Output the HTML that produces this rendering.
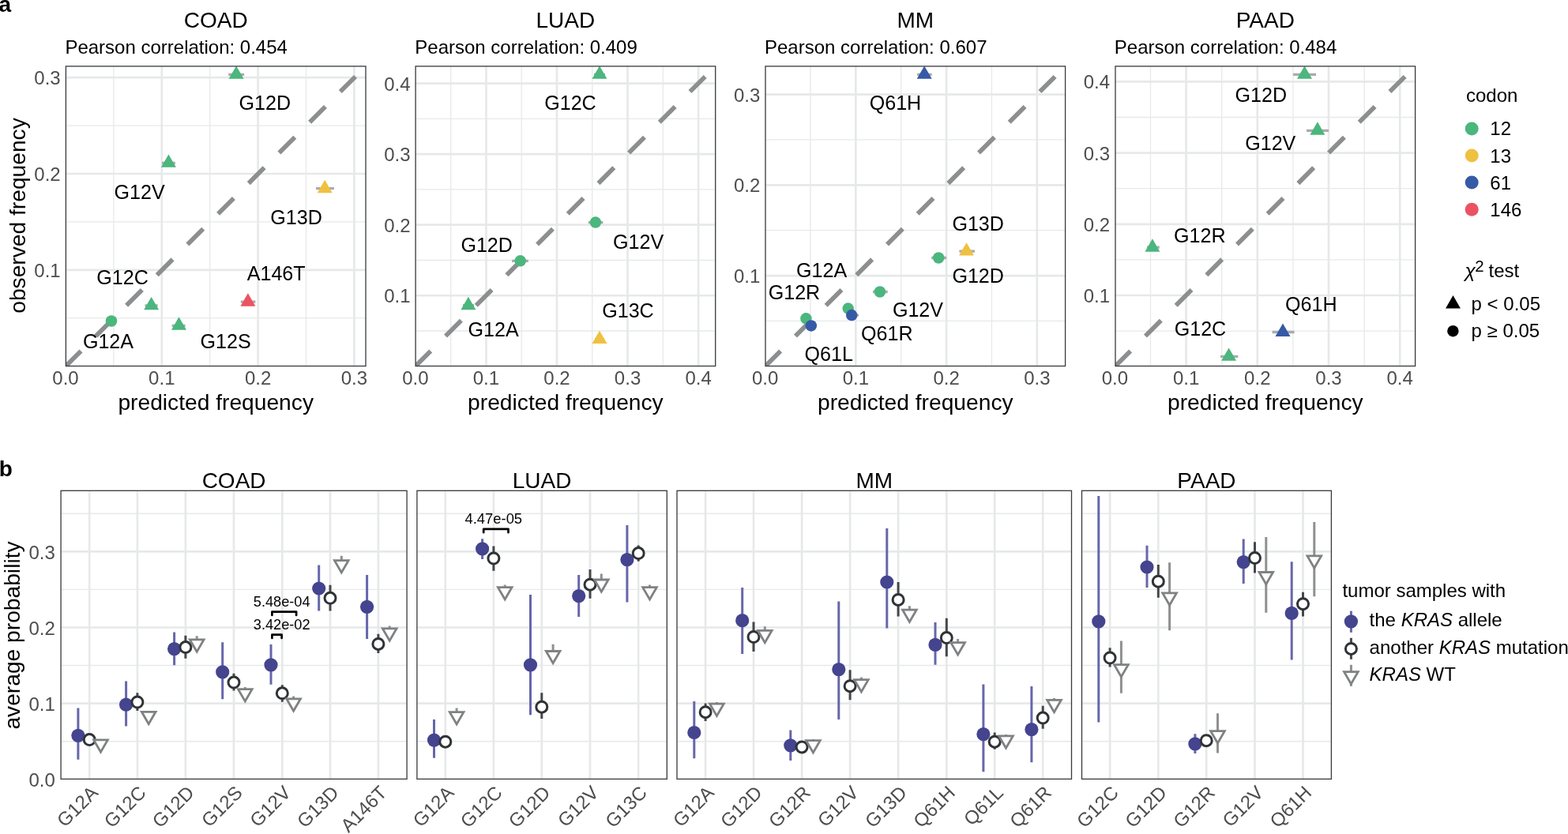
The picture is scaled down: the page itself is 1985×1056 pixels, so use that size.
<!DOCTYPE html>
<html lang="en">
<head>
<meta charset="utf-8">
<title>KRAS allele frequency: predicted vs observed</title>
<style>
html,body{margin:0;padding:0;background:#fff;}
body{width:1985px;height:1056px;overflow:hidden;}
svg{display:block;font-family:'Liberation Sans', sans-serif;}
</style>
</head>
<body>
<svg width="1985" height="1056" viewBox="0 0 1985 1056">
<rect width="1985" height="1056" fill="#fff"/>
<text x="-1.6" y="15.2" font-size="28" font-weight="bold" fill="#000">a</text>
<text x="-1.2" y="603.0" font-size="28" font-weight="bold" fill="#000">b</text>
<clipPath id="ca_COAD"><rect x="83.4" y="83.9" width="379.6" height="379.6"/></clipPath>
<g clip-path="url(#ca_COAD)">
<line x1="143.9" y1="83.9" x2="143.9" y2="463.5" stroke="#E7E9E9" stroke-width="1.3"/>
<line x1="204.8" y1="83.9" x2="204.8" y2="463.5" stroke="#E7E9E9" stroke-width="2.7"/>
<line x1="265.7" y1="83.9" x2="265.7" y2="463.5" stroke="#E7E9E9" stroke-width="1.3"/>
<line x1="326.6" y1="83.9" x2="326.6" y2="463.5" stroke="#E7E9E9" stroke-width="2.7"/>
<line x1="387.5" y1="83.9" x2="387.5" y2="463.5" stroke="#E7E9E9" stroke-width="1.3"/>
<line x1="448.4" y1="83.9" x2="448.4" y2="463.5" stroke="#E7E9E9" stroke-width="2.7"/>
<line x1="83.4" y1="402.7" x2="463" y2="402.7" stroke="#E7E9E9" stroke-width="1.3"/>
<line x1="83.4" y1="341.8" x2="463" y2="341.8" stroke="#E7E9E9" stroke-width="2.7"/>
<line x1="83.4" y1="280.9" x2="463" y2="280.9" stroke="#E7E9E9" stroke-width="1.3"/>
<line x1="83.4" y1="220" x2="463" y2="220" stroke="#E7E9E9" stroke-width="2.7"/>
<line x1="83.4" y1="159.1" x2="463" y2="159.1" stroke="#E7E9E9" stroke-width="1.3"/>
<line x1="83.4" y1="98.2" x2="463" y2="98.2" stroke="#E7E9E9" stroke-width="2.7"/>
<line x1="82.7" y1="464.2" x2="450" y2="96.9" stroke="#8C8E90" stroke-width="5.7" stroke-dasharray="28 26.7"/>
<line x1="289.2" y1="94.4" x2="309.1" y2="94.4" stroke="#A9ABAE" stroke-width="3.3"/>
<line x1="205" y1="206.4" x2="221.9" y2="206.4" stroke="#A9ABAE" stroke-width="3.3"/>
<line x1="400" y1="238.7" x2="422.9" y2="238.7" stroke="#A9ABAE" stroke-width="3.3"/>
<line x1="183.5" y1="386.9" x2="199.7" y2="386.9" stroke="#A9ABAE" stroke-width="3.3"/>
<line x1="217.6" y1="412.3" x2="234.6" y2="412.3" stroke="#A9ABAE" stroke-width="3.3"/>
<line x1="304.8" y1="382.2" x2="323.4" y2="382.2" stroke="#A9ABAE" stroke-width="3.3"/>
<line x1="135" y1="406.5" x2="147" y2="406.5" stroke="#A9ABAE" stroke-width="3.3"/>
<polygon points="299.1,83.47 308.6,99.87 289.6,99.87" fill="#4BB67D"/>
<polygon points="213.4,195.47 222.9,211.87 203.9,211.87" fill="#4BB67D"/>
<polygon points="411.2,227.77 420.7,244.17 401.7,244.17" fill="#EFC140"/>
<polygon points="191.6,375.97 201.1,392.37 182.1,392.37" fill="#4BB67D"/>
<polygon points="226.5,401.37 236,417.77 217,417.77" fill="#4BB67D"/>
<polygon points="313.9,371.27 323.4,387.67 304.4,387.67" fill="#EB5362"/>
<circle cx="141" cy="406.5" r="7.25" fill="#4BB67D"/>
</g>
<text x="302.6" y="139.3" font-size="25.1" fill="#000" text-anchor="start">G12D</text>
<text x="144.5" y="251.5" font-size="25.1" fill="#000" text-anchor="start">G12V</text>
<text x="342.3" y="283.8" font-size="25.1" fill="#000" text-anchor="start">G13D</text>
<text x="122.3" y="359.9" font-size="25.1" fill="#000" text-anchor="start">G12C</text>
<text x="312.7" y="354.6" font-size="25.1" fill="#000" text-anchor="start">A146T</text>
<text x="104.9" y="441" font-size="25.1" fill="#000" text-anchor="start">G12A</text>
<text x="253.5" y="441" font-size="25.1" fill="#000" text-anchor="start">G12S</text>
<rect x="83.4" y="83.9" width="379.6" height="379.6" fill="none" stroke="#36393C" stroke-width="1.3"/>
<text x="83" y="487.1" font-size="24" fill="#4D4D4D" text-anchor="middle">0.0</text>
<text x="204.8" y="487.1" font-size="24" fill="#4D4D4D" text-anchor="middle">0.1</text>
<text x="326.6" y="487.1" font-size="24" fill="#4D4D4D" text-anchor="middle">0.2</text>
<text x="448.4" y="487.1" font-size="24" fill="#4D4D4D" text-anchor="middle">0.3</text>
<text x="76.7" y="350.8" font-size="24" fill="#4D4D4D" text-anchor="end">0.1</text>
<text x="76.7" y="229" font-size="24" fill="#4D4D4D" text-anchor="end">0.2</text>
<text x="76.7" y="107.2" font-size="24" fill="#4D4D4D" text-anchor="end">0.3</text>
<text x="273.2" y="35.4" font-size="28" fill="#000" text-anchor="middle">COAD</text>
<text x="82.4" y="68" font-size="24" fill="#000" text-anchor="start">Pearson correlation: 0.454</text>
<text x="273.2" y="519.4" font-size="28.2" fill="#000" text-anchor="middle">predicted frequency</text>
<clipPath id="ca_LUAD"><rect x="526.1" y="83.9" width="379.6" height="379.6"/></clipPath>
<g clip-path="url(#ca_LUAD)">
<line x1="570.67" y1="83.9" x2="570.67" y2="463.5" stroke="#E7E9E9" stroke-width="1.3"/>
<line x1="615.45" y1="83.9" x2="615.45" y2="463.5" stroke="#E7E9E9" stroke-width="2.7"/>
<line x1="660.23" y1="83.9" x2="660.23" y2="463.5" stroke="#E7E9E9" stroke-width="1.3"/>
<line x1="705" y1="83.9" x2="705" y2="463.5" stroke="#E7E9E9" stroke-width="2.7"/>
<line x1="749.77" y1="83.9" x2="749.77" y2="463.5" stroke="#E7E9E9" stroke-width="1.3"/>
<line x1="794.55" y1="83.9" x2="794.55" y2="463.5" stroke="#E7E9E9" stroke-width="2.7"/>
<line x1="839.32" y1="83.9" x2="839.32" y2="463.5" stroke="#E7E9E9" stroke-width="1.3"/>
<line x1="884.1" y1="83.9" x2="884.1" y2="463.5" stroke="#E7E9E9" stroke-width="2.7"/>
<line x1="526.1" y1="419.02" x2="905.7" y2="419.02" stroke="#E7E9E9" stroke-width="1.3"/>
<line x1="526.1" y1="374.25" x2="905.7" y2="374.25" stroke="#E7E9E9" stroke-width="2.7"/>
<line x1="526.1" y1="329.48" x2="905.7" y2="329.48" stroke="#E7E9E9" stroke-width="1.3"/>
<line x1="526.1" y1="284.7" x2="905.7" y2="284.7" stroke="#E7E9E9" stroke-width="2.7"/>
<line x1="526.1" y1="239.93" x2="905.7" y2="239.93" stroke="#E7E9E9" stroke-width="1.3"/>
<line x1="526.1" y1="195.15" x2="905.7" y2="195.15" stroke="#E7E9E9" stroke-width="2.7"/>
<line x1="526.1" y1="150.38" x2="905.7" y2="150.38" stroke="#E7E9E9" stroke-width="1.3"/>
<line x1="526.1" y1="105.6" x2="905.7" y2="105.6" stroke="#E7E9E9" stroke-width="2.7"/>
<line x1="525.4" y1="464.2" x2="892.7" y2="96.9" stroke="#8C8E90" stroke-width="5.7" stroke-dasharray="28 26.7"/>
<line x1="752" y1="94.4" x2="766" y2="94.4" stroke="#A9ABAE" stroke-width="3.3"/>
<line x1="744.8" y1="281.6" x2="763.4" y2="281.6" stroke="#A9ABAE" stroke-width="3.3"/>
<line x1="648.1" y1="330.3" x2="668.9" y2="330.3" stroke="#A9ABAE" stroke-width="3.3"/>
<line x1="586" y1="386.7" x2="600" y2="386.7" stroke="#A9ABAE" stroke-width="3.3"/>
<line x1="753" y1="429.6" x2="765" y2="429.6" stroke="#A9ABAE" stroke-width="3.3"/>
<polygon points="759,83.47 768.5,99.87 749.5,99.87" fill="#4BB67D"/>
<circle cx="753.9" cy="281.6" r="7.25" fill="#4BB67D"/>
<circle cx="658.7" cy="330.3" r="7.25" fill="#4BB67D"/>
<polygon points="592.9,375.77 602.4,392.17 583.4,392.17" fill="#4BB67D"/>
<polygon points="759,418.67 768.5,435.07 749.5,435.07" fill="#EFC140"/>
</g>
<text x="689.2" y="139.3" font-size="25.1" fill="#000" text-anchor="start">G12C</text>
<text x="776" y="314.9" font-size="25.1" fill="#000" text-anchor="start">G12V</text>
<text x="583.4" y="319.1" font-size="25.1" fill="#000" text-anchor="start">G12D</text>
<text x="762.2" y="402.2" font-size="25.1" fill="#000" text-anchor="start">G13C</text>
<text x="592.5" y="425.9" font-size="25.1" fill="#000" text-anchor="start">G12A</text>
<rect x="526.1" y="83.9" width="379.6" height="379.6" fill="none" stroke="#36393C" stroke-width="1.3"/>
<text x="525.9" y="487.1" font-size="24" fill="#4D4D4D" text-anchor="middle">0.0</text>
<text x="615.45" y="487.1" font-size="24" fill="#4D4D4D" text-anchor="middle">0.1</text>
<text x="705" y="487.1" font-size="24" fill="#4D4D4D" text-anchor="middle">0.2</text>
<text x="794.55" y="487.1" font-size="24" fill="#4D4D4D" text-anchor="middle">0.3</text>
<text x="884.1" y="487.1" font-size="24" fill="#4D4D4D" text-anchor="middle">0.4</text>
<text x="519.6" y="383.25" font-size="24" fill="#4D4D4D" text-anchor="end">0.1</text>
<text x="519.6" y="293.7" font-size="24" fill="#4D4D4D" text-anchor="end">0.2</text>
<text x="519.6" y="204.15" font-size="24" fill="#4D4D4D" text-anchor="end">0.3</text>
<text x="519.6" y="114.6" font-size="24" fill="#4D4D4D" text-anchor="end">0.4</text>
<text x="715.9" y="35.4" font-size="28" fill="#000" text-anchor="middle">LUAD</text>
<text x="525.3" y="68" font-size="24" fill="#000" text-anchor="start">Pearson correlation: 0.409</text>
<text x="715.9" y="519.4" font-size="28.2" fill="#000" text-anchor="middle">predicted frequency</text>
<clipPath id="ca_MM"><rect x="969" y="83.9" width="379.6" height="379.6"/></clipPath>
<g clip-path="url(#ca_MM)">
<line x1="1025.97" y1="83.9" x2="1025.97" y2="463.5" stroke="#E7E9E9" stroke-width="1.3"/>
<line x1="1083.35" y1="83.9" x2="1083.35" y2="463.5" stroke="#E7E9E9" stroke-width="2.7"/>
<line x1="1140.73" y1="83.9" x2="1140.73" y2="463.5" stroke="#E7E9E9" stroke-width="1.3"/>
<line x1="1198.1" y1="83.9" x2="1198.1" y2="463.5" stroke="#E7E9E9" stroke-width="2.7"/>
<line x1="1255.47" y1="83.9" x2="1255.47" y2="463.5" stroke="#E7E9E9" stroke-width="1.3"/>
<line x1="1312.85" y1="83.9" x2="1312.85" y2="463.5" stroke="#E7E9E9" stroke-width="2.7"/>
<line x1="969" y1="406.43" x2="1348.6" y2="406.43" stroke="#E7E9E9" stroke-width="1.3"/>
<line x1="969" y1="349.05" x2="1348.6" y2="349.05" stroke="#E7E9E9" stroke-width="2.7"/>
<line x1="969" y1="291.67" x2="1348.6" y2="291.67" stroke="#E7E9E9" stroke-width="1.3"/>
<line x1="969" y1="234.3" x2="1348.6" y2="234.3" stroke="#E7E9E9" stroke-width="2.7"/>
<line x1="969" y1="176.93" x2="1348.6" y2="176.93" stroke="#E7E9E9" stroke-width="1.3"/>
<line x1="969" y1="119.55" x2="1348.6" y2="119.55" stroke="#E7E9E9" stroke-width="2.7"/>
<line x1="968.3" y1="464.2" x2="1335.6" y2="96.9" stroke="#8C8E90" stroke-width="5.7" stroke-dasharray="28 26.7"/>
<line x1="1161.1" y1="94.4" x2="1179.7" y2="94.4" stroke="#A9ABAE" stroke-width="3.3"/>
<line x1="1214.4" y1="318.1" x2="1234.1" y2="318.1" stroke="#A9ABAE" stroke-width="3.3"/>
<line x1="1179.1" y1="326.5" x2="1198.1" y2="326.5" stroke="#A9ABAE" stroke-width="3.3"/>
<line x1="1105" y1="369.5" x2="1123.7" y2="369.5" stroke="#A9ABAE" stroke-width="3.3"/>
<line x1="1068" y1="390.6" x2="1080" y2="390.6" stroke="#A9ABAE" stroke-width="3.3"/>
<line x1="1073" y1="399.1" x2="1087" y2="399.1" stroke="#A9ABAE" stroke-width="3.3"/>
<line x1="1015" y1="403.3" x2="1026" y2="403.3" stroke="#A9ABAE" stroke-width="3.3"/>
<line x1="1021" y1="412.4" x2="1032" y2="412.4" stroke="#A9ABAE" stroke-width="3.3"/>
<polygon points="1170.2,83.47 1179.7,99.87 1160.7,99.87" fill="#365AA6"/>
<polygon points="1223.5,307.17 1233,323.57 1214,323.57" fill="#EFC140"/>
<circle cx="1188.2" cy="326.5" r="7.25" fill="#4BB67D"/>
<circle cx="1113.9" cy="369.5" r="7.25" fill="#4BB67D"/>
<circle cx="1073.7" cy="390.6" r="7.25" fill="#4BB67D"/>
<circle cx="1078.2" cy="399.1" r="7.25" fill="#365AA6"/>
<circle cx="1020.4" cy="403.3" r="7.25" fill="#4BB67D"/>
<circle cx="1026.8" cy="412.4" r="7.25" fill="#365AA6"/>
</g>
<text x="1100.7" y="139.3" font-size="25.1" fill="#000" text-anchor="start">Q61H</text>
<text x="1205.4" y="291.8" font-size="25.1" fill="#000" text-anchor="start">G13D</text>
<text x="1205.4" y="357.8" font-size="25.1" fill="#000" text-anchor="start">G12D</text>
<text x="1008" y="351" font-size="25.1" fill="#000" text-anchor="start">G12A</text>
<text x="972.7" y="379.4" font-size="25.1" fill="#000" text-anchor="start">G12R</text>
<text x="1129.9" y="401.2" font-size="25.1" fill="#000" text-anchor="start">G12V</text>
<text x="1090.1" y="431.2" font-size="25.1" fill="#000" text-anchor="start">Q61R</text>
<text x="1018.6" y="456.6" font-size="25.1" fill="#000" text-anchor="start">Q61L</text>
<rect x="969" y="83.9" width="379.6" height="379.6" fill="none" stroke="#36393C" stroke-width="1.3"/>
<text x="968.6" y="487.1" font-size="24" fill="#4D4D4D" text-anchor="middle">0.0</text>
<text x="1083.35" y="487.1" font-size="24" fill="#4D4D4D" text-anchor="middle">0.1</text>
<text x="1198.1" y="487.1" font-size="24" fill="#4D4D4D" text-anchor="middle">0.2</text>
<text x="1312.85" y="487.1" font-size="24" fill="#4D4D4D" text-anchor="middle">0.3</text>
<text x="962.3" y="358.05" font-size="24" fill="#4D4D4D" text-anchor="end">0.1</text>
<text x="962.3" y="243.3" font-size="24" fill="#4D4D4D" text-anchor="end">0.2</text>
<text x="962.3" y="128.55" font-size="24" fill="#4D4D4D" text-anchor="end">0.3</text>
<text x="1158.8" y="35.4" font-size="28" fill="#000" text-anchor="middle">MM</text>
<text x="968" y="68" font-size="24" fill="#000" text-anchor="start">Pearson correlation: 0.607</text>
<text x="1158.8" y="519.4" font-size="28.2" fill="#000" text-anchor="middle">predicted frequency</text>
<clipPath id="ca_PAAD"><rect x="1412" y="83.9" width="379.6" height="379.6"/></clipPath>
<g clip-path="url(#ca_PAAD)">
<line x1="1456.5" y1="83.9" x2="1456.5" y2="463.5" stroke="#E7E9E9" stroke-width="1.3"/>
<line x1="1501.6" y1="83.9" x2="1501.6" y2="463.5" stroke="#E7E9E9" stroke-width="2.7"/>
<line x1="1546.7" y1="83.9" x2="1546.7" y2="463.5" stroke="#E7E9E9" stroke-width="1.3"/>
<line x1="1591.8" y1="83.9" x2="1591.8" y2="463.5" stroke="#E7E9E9" stroke-width="2.7"/>
<line x1="1636.9" y1="83.9" x2="1636.9" y2="463.5" stroke="#E7E9E9" stroke-width="1.3"/>
<line x1="1682" y1="83.9" x2="1682" y2="463.5" stroke="#E7E9E9" stroke-width="2.7"/>
<line x1="1727.1" y1="83.9" x2="1727.1" y2="463.5" stroke="#E7E9E9" stroke-width="1.3"/>
<line x1="1772.2" y1="83.9" x2="1772.2" y2="463.5" stroke="#E7E9E9" stroke-width="2.7"/>
<line x1="1412" y1="419.1" x2="1791.6" y2="419.1" stroke="#E7E9E9" stroke-width="1.3"/>
<line x1="1412" y1="374" x2="1791.6" y2="374" stroke="#E7E9E9" stroke-width="2.7"/>
<line x1="1412" y1="328.9" x2="1791.6" y2="328.9" stroke="#E7E9E9" stroke-width="1.3"/>
<line x1="1412" y1="283.8" x2="1791.6" y2="283.8" stroke="#E7E9E9" stroke-width="2.7"/>
<line x1="1412" y1="238.7" x2="1791.6" y2="238.7" stroke="#E7E9E9" stroke-width="1.3"/>
<line x1="1412" y1="193.6" x2="1791.6" y2="193.6" stroke="#E7E9E9" stroke-width="2.7"/>
<line x1="1412" y1="148.5" x2="1791.6" y2="148.5" stroke="#E7E9E9" stroke-width="1.3"/>
<line x1="1412" y1="103.4" x2="1791.6" y2="103.4" stroke="#E7E9E9" stroke-width="2.7"/>
<line x1="1411.3" y1="464.2" x2="1778.6" y2="96.9" stroke="#8C8E90" stroke-width="5.7" stroke-dasharray="28 26.7"/>
<line x1="1637.1" y1="94.4" x2="1666.1" y2="94.4" stroke="#A9ABAE" stroke-width="3.3"/>
<line x1="1654" y1="165.3" x2="1682" y2="165.3" stroke="#A9ABAE" stroke-width="3.3"/>
<line x1="1452" y1="313.2" x2="1467.8" y2="313.2" stroke="#A9ABAE" stroke-width="3.3"/>
<line x1="1610.6" y1="420.5" x2="1638.6" y2="420.5" stroke="#A9ABAE" stroke-width="3.3"/>
<line x1="1545" y1="451.4" x2="1567.3" y2="451.4" stroke="#A9ABAE" stroke-width="3.3"/>
<polygon points="1651.5,83.47 1661,99.87 1642,99.87" fill="#4BB67D"/>
<polygon points="1667.9,154.37 1677.4,170.77 1658.4,170.77" fill="#4BB67D"/>
<polygon points="1458.9,302.27 1468.4,318.67 1449.4,318.67" fill="#4BB67D"/>
<polygon points="1624,409.57 1633.5,425.97 1614.5,425.97" fill="#365AA6"/>
<polygon points="1555.6,440.47 1565.1,456.87 1546.1,456.87" fill="#4BB67D"/>
</g>
<text x="1563.5" y="128.8" font-size="25.1" fill="#000" text-anchor="start">G12D</text>
<text x="1576.2" y="190.2" font-size="25.1" fill="#000" text-anchor="start">G12V</text>
<text x="1486.1" y="306.6" font-size="25.1" fill="#000" text-anchor="start">G12R</text>
<text x="1627" y="393.8" font-size="25.1" fill="#000" text-anchor="start">Q61H</text>
<text x="1486.7" y="425.1" font-size="25.1" fill="#000" text-anchor="start">G12C</text>
<rect x="1412" y="83.9" width="379.6" height="379.6" fill="none" stroke="#36393C" stroke-width="1.3"/>
<text x="1411.4" y="487.1" font-size="24" fill="#4D4D4D" text-anchor="middle">0.0</text>
<text x="1501.6" y="487.1" font-size="24" fill="#4D4D4D" text-anchor="middle">0.1</text>
<text x="1591.8" y="487.1" font-size="24" fill="#4D4D4D" text-anchor="middle">0.2</text>
<text x="1682" y="487.1" font-size="24" fill="#4D4D4D" text-anchor="middle">0.3</text>
<text x="1772.2" y="487.1" font-size="24" fill="#4D4D4D" text-anchor="middle">0.4</text>
<text x="1405.1" y="383" font-size="24" fill="#4D4D4D" text-anchor="end">0.1</text>
<text x="1405.1" y="292.8" font-size="24" fill="#4D4D4D" text-anchor="end">0.2</text>
<text x="1405.1" y="202.6" font-size="24" fill="#4D4D4D" text-anchor="end">0.3</text>
<text x="1405.1" y="112.4" font-size="24" fill="#4D4D4D" text-anchor="end">0.4</text>
<text x="1601.8" y="35.4" font-size="28" fill="#000" text-anchor="middle">PAAD</text>
<text x="1410.8" y="68" font-size="24" fill="#000" text-anchor="start">Pearson correlation: 0.484</text>
<text x="1601.8" y="519.4" font-size="28.2" fill="#000" text-anchor="middle">predicted frequency</text>
<text transform="translate(31.8,273.0) rotate(-90)" font-size="28.2" text-anchor="middle" fill="#000">observed frequency</text>
<text x="1856" y="128.8" font-size="24" fill="#000" text-anchor="start">codon</text>
<circle cx="1863.2" cy="162.9" r="8.5" fill="#4BB67D"/>
<text x="1886.3" y="171.4" font-size="24" fill="#000" text-anchor="start">12</text>
<circle cx="1863.2" cy="197" r="8.5" fill="#EFC140"/>
<text x="1886.3" y="205.5" font-size="24" fill="#000" text-anchor="start">13</text>
<circle cx="1863.2" cy="231.1" r="8.5" fill="#365AA6"/>
<text x="1886.3" y="239.6" font-size="24" fill="#000" text-anchor="start">61</text>
<circle cx="1863.2" cy="265.2" r="8.5" fill="#EB5362"/>
<text x="1886.3" y="273.7" font-size="24" fill="#000" text-anchor="start">146</text>
<text y="350.6" font-size="24" fill="#000"><tspan x="1854.4" font-style="italic" font-size="24.5">χ</tspan><tspan x="1867.3" y="344.0" font-size="20.5">2</tspan><tspan x="1884.6" y="350.6">test</tspan></text>
<polygon points="1839.5,374.07 1848.95,390.47 1830.05,390.47" fill="#000"/>
<circle cx="1839.4" cy="419.2" r="7.2" fill="#000"/>
<text x="1862.6" y="393.2" font-size="24" fill="#000" text-anchor="start">p &lt; 0.05</text>
<text x="1862.6" y="427.3" font-size="24" fill="#000" text-anchor="start">p ≥ 0.05</text>
<clipPath id="cb_COAD"><rect x="77.1" y="621.3" width="438" height="365.1"/></clipPath>
<g clip-path="url(#cb_COAD)">
<line x1="77.1" y1="938.72" x2="515.1" y2="938.72" stroke="#E7E9E9" stroke-width="1.4"/>
<line x1="77.1" y1="890.65" x2="515.1" y2="890.65" stroke="#E7E9E9" stroke-width="2.7"/>
<line x1="77.1" y1="842.57" x2="515.1" y2="842.57" stroke="#E7E9E9" stroke-width="1.4"/>
<line x1="77.1" y1="794.5" x2="515.1" y2="794.5" stroke="#E7E9E9" stroke-width="2.7"/>
<line x1="77.1" y1="746.42" x2="515.1" y2="746.42" stroke="#E7E9E9" stroke-width="1.4"/>
<line x1="77.1" y1="698.35" x2="515.1" y2="698.35" stroke="#E7E9E9" stroke-width="2.7"/>
<line x1="77.1" y1="650.27" x2="515.1" y2="650.27" stroke="#E7E9E9" stroke-width="1.4"/>
<line x1="113.2" y1="621.3" x2="113.2" y2="986.4" stroke="#E7E9E9" stroke-width="2.7"/>
<line x1="173.9" y1="621.3" x2="173.9" y2="986.4" stroke="#E7E9E9" stroke-width="2.7"/>
<line x1="234.9" y1="621.3" x2="234.9" y2="986.4" stroke="#E7E9E9" stroke-width="2.7"/>
<line x1="296" y1="621.3" x2="296" y2="986.4" stroke="#E7E9E9" stroke-width="2.7"/>
<line x1="357.3" y1="621.3" x2="357.3" y2="986.4" stroke="#E7E9E9" stroke-width="2.7"/>
<line x1="418" y1="621.3" x2="418" y2="986.4" stroke="#E7E9E9" stroke-width="2.7"/>
<line x1="478.9" y1="621.3" x2="478.9" y2="986.4" stroke="#E7E9E9" stroke-width="2.7"/>
<line x1="98.9" y1="896.4" x2="98.9" y2="961.8" stroke="#6666AB" stroke-width="3"/>
<circle cx="98.9" cy="931.3" r="8.6" fill="#44448F"/>
<line x1="113.2" y1="930" x2="113.2" y2="943" stroke="#45484B" stroke-width="3"/>
<circle cx="113.2" cy="936.6" r="7.0" fill="#fff" stroke="#2F3336" stroke-width="3"/>
<line x1="127.5" y1="936" x2="127.5" y2="948" stroke="#8E9091" stroke-width="3"/>
<polygon points="118.65,936.89 136.35,936.89 127.5,952.22" fill="#fff" stroke="#7F8182" stroke-width="2.8" stroke-linejoin="miter"/>
<line x1="159.6" y1="862.4" x2="159.6" y2="919.5" stroke="#6666AB" stroke-width="3"/>
<circle cx="159.6" cy="892.2" r="8.6" fill="#44448F"/>
<line x1="173.9" y1="877.2" x2="173.9" y2="900" stroke="#45484B" stroke-width="3"/>
<circle cx="173.9" cy="889" r="7.0" fill="#fff" stroke="#2F3336" stroke-width="3"/>
<line x1="188.2" y1="900" x2="188.2" y2="912" stroke="#8E9091" stroke-width="3"/>
<polygon points="179.35,901.29 197.05,901.29 188.2,916.62" fill="#fff" stroke="#7F8182" stroke-width="2.8" stroke-linejoin="miter"/>
<line x1="220.6" y1="800.6" x2="220.6" y2="842.3" stroke="#6666AB" stroke-width="3"/>
<circle cx="220.6" cy="821.7" r="8.6" fill="#44448F"/>
<line x1="234.9" y1="804.8" x2="234.9" y2="833.8" stroke="#45484B" stroke-width="3"/>
<circle cx="234.9" cy="819.6" r="7.0" fill="#fff" stroke="#2F3336" stroke-width="3"/>
<line x1="249.2" y1="805.2" x2="249.2" y2="822" stroke="#8E9091" stroke-width="3"/>
<polygon points="240.35,809.89 258.05,809.89 249.2,825.22" fill="#fff" stroke="#7F8182" stroke-width="2.8" stroke-linejoin="miter"/>
<line x1="281.7" y1="813.3" x2="281.7" y2="885.2" stroke="#6666AB" stroke-width="3"/>
<circle cx="281.7" cy="850.9" r="8.6" fill="#44448F"/>
<line x1="296" y1="852.8" x2="296" y2="874.6" stroke="#45484B" stroke-width="3"/>
<circle cx="296" cy="864.1" r="7.0" fill="#fff" stroke="#2F3336" stroke-width="3"/>
<line x1="310.3" y1="870" x2="310.3" y2="884" stroke="#8E9091" stroke-width="3"/>
<polygon points="301.45,872.69 319.15,872.69 310.3,888.02" fill="#fff" stroke="#7F8182" stroke-width="2.8" stroke-linejoin="miter"/>
<line x1="343" y1="816" x2="343" y2="866.8" stroke="#6666AB" stroke-width="3"/>
<circle cx="343" cy="841.8" r="8.6" fill="#44448F"/>
<line x1="357.3" y1="867.2" x2="357.3" y2="888.8" stroke="#45484B" stroke-width="3"/>
<circle cx="357.3" cy="877.8" r="7.0" fill="#fff" stroke="#2F3336" stroke-width="3"/>
<line x1="371.6" y1="881.5" x2="371.6" y2="896" stroke="#8E9091" stroke-width="3"/>
<polygon points="362.75,884.79 380.45,884.79 371.6,900.12" fill="#fff" stroke="#7F8182" stroke-width="2.8" stroke-linejoin="miter"/>
<line x1="403.7" y1="715.4" x2="403.7" y2="773.6" stroke="#6666AB" stroke-width="3"/>
<circle cx="403.7" cy="745" r="8.6" fill="#44448F"/>
<line x1="418" y1="740.8" x2="418" y2="773.6" stroke="#45484B" stroke-width="3"/>
<circle cx="418" cy="757.3" r="7.0" fill="#fff" stroke="#2F3336" stroke-width="3"/>
<line x1="432.3" y1="703.8" x2="432.3" y2="722" stroke="#8E9091" stroke-width="3"/>
<polygon points="423.45,709.69 441.15,709.69 432.3,725.02" fill="#fff" stroke="#7F8182" stroke-width="2.8" stroke-linejoin="miter"/>
<line x1="464.6" y1="728.1" x2="464.6" y2="809" stroke="#6666AB" stroke-width="3"/>
<circle cx="464.6" cy="768.3" r="8.6" fill="#44448F"/>
<line x1="478.9" y1="802.7" x2="478.9" y2="827" stroke="#45484B" stroke-width="3"/>
<circle cx="478.9" cy="815.4" r="7.0" fill="#fff" stroke="#2F3336" stroke-width="3"/>
<line x1="493.2" y1="792.5" x2="493.2" y2="808" stroke="#8E9091" stroke-width="3"/>
<polygon points="484.35,795.89 502.05,795.89 493.2,811.22" fill="#fff" stroke="#7F8182" stroke-width="2.8" stroke-linejoin="miter"/>
</g>
<rect x="77.1" y="621.3" width="438" height="365.1" fill="none" stroke="#36393C" stroke-width="1.3"/>
<text x="296.1" y="618" font-size="28" fill="#000" text-anchor="middle">COAD</text>
<text transform="translate(125.5,1005.2) rotate(-45)" font-size="24" fill="#4D4D4D" text-anchor="end">G12A</text>
<text transform="translate(186.2,1005.2) rotate(-45)" font-size="24" fill="#4D4D4D" text-anchor="end">G12C</text>
<text transform="translate(247.2,1005.2) rotate(-45)" font-size="24" fill="#4D4D4D" text-anchor="end">G12D</text>
<text transform="translate(308.3,1005.2) rotate(-45)" font-size="24" fill="#4D4D4D" text-anchor="end">G12S</text>
<text transform="translate(369.6,1005.2) rotate(-45)" font-size="24" fill="#4D4D4D" text-anchor="end">G12V</text>
<text transform="translate(430.3,1005.2) rotate(-45)" font-size="24" fill="#4D4D4D" text-anchor="end">G13D</text>
<text transform="translate(491.2,1005.2) rotate(-45)" font-size="24" fill="#4D4D4D" text-anchor="end">A146T</text>
<text x="69.8" y="996.1" font-size="24" fill="#4D4D4D" text-anchor="end">0.0</text>
<text x="69.8" y="899.95" font-size="24" fill="#4D4D4D" text-anchor="end">0.1</text>
<text x="69.8" y="803.8" font-size="24" fill="#4D4D4D" text-anchor="end">0.2</text>
<text x="69.8" y="707.65" font-size="24" fill="#4D4D4D" text-anchor="end">0.3</text>
<clipPath id="cb_LUAD"><rect x="527.9" y="621.3" width="316.4" height="365.1"/></clipPath>
<g clip-path="url(#cb_LUAD)">
<line x1="527.9" y1="938.72" x2="844.3" y2="938.72" stroke="#E7E9E9" stroke-width="1.4"/>
<line x1="527.9" y1="890.65" x2="844.3" y2="890.65" stroke="#E7E9E9" stroke-width="2.7"/>
<line x1="527.9" y1="842.57" x2="844.3" y2="842.57" stroke="#E7E9E9" stroke-width="1.4"/>
<line x1="527.9" y1="794.5" x2="844.3" y2="794.5" stroke="#E7E9E9" stroke-width="2.7"/>
<line x1="527.9" y1="746.42" x2="844.3" y2="746.42" stroke="#E7E9E9" stroke-width="1.4"/>
<line x1="527.9" y1="698.35" x2="844.3" y2="698.35" stroke="#E7E9E9" stroke-width="2.7"/>
<line x1="527.9" y1="650.27" x2="844.3" y2="650.27" stroke="#E7E9E9" stroke-width="1.4"/>
<line x1="563.8" y1="621.3" x2="563.8" y2="986.4" stroke="#E7E9E9" stroke-width="2.7"/>
<line x1="624.9" y1="621.3" x2="624.9" y2="986.4" stroke="#E7E9E9" stroke-width="2.7"/>
<line x1="685.8" y1="621.3" x2="685.8" y2="986.4" stroke="#E7E9E9" stroke-width="2.7"/>
<line x1="747" y1="621.3" x2="747" y2="986.4" stroke="#E7E9E9" stroke-width="2.7"/>
<line x1="808.2" y1="621.3" x2="808.2" y2="986.4" stroke="#E7E9E9" stroke-width="2.7"/>
<line x1="549.5" y1="911" x2="549.5" y2="959.7" stroke="#6666AB" stroke-width="3"/>
<circle cx="549.5" cy="937.1" r="8.6" fill="#44448F"/>
<line x1="563.8" y1="934" x2="563.8" y2="945" stroke="#45484B" stroke-width="3"/>
<circle cx="563.8" cy="939.2" r="7.0" fill="#fff" stroke="#2F3336" stroke-width="3"/>
<line x1="578.1" y1="896.4" x2="578.1" y2="913" stroke="#8E9091" stroke-width="3"/>
<polygon points="569.25,901.69 586.95,901.69 578.1,917.02" fill="#fff" stroke="#7F8182" stroke-width="2.8" stroke-linejoin="miter"/>
<line x1="610.6" y1="682.2" x2="610.6" y2="708" stroke="#6666AB" stroke-width="3"/>
<circle cx="610.6" cy="694.9" r="8.6" fill="#44448F"/>
<line x1="624.9" y1="691.5" x2="624.9" y2="722.8" stroke="#45484B" stroke-width="3"/>
<circle cx="624.9" cy="707" r="7.0" fill="#fff" stroke="#2F3336" stroke-width="3"/>
<line x1="639.2" y1="740.4" x2="639.2" y2="755" stroke="#8E9091" stroke-width="3"/>
<polygon points="630.35,743.69 648.05,743.69 639.2,759.02" fill="#fff" stroke="#7F8182" stroke-width="2.8" stroke-linejoin="miter"/>
<line x1="671.5" y1="753.1" x2="671.5" y2="905.3" stroke="#6666AB" stroke-width="3"/>
<circle cx="671.5" cy="841.8" r="8.6" fill="#44448F"/>
<line x1="685.8" y1="877.2" x2="685.8" y2="910" stroke="#45484B" stroke-width="3"/>
<circle cx="685.8" cy="895.2" r="7.0" fill="#fff" stroke="#2F3336" stroke-width="3"/>
<line x1="700.1" y1="815.8" x2="700.1" y2="838" stroke="#8E9091" stroke-width="3"/>
<polygon points="691.25,824.49 708.95,824.49 700.1,839.82" fill="#fff" stroke="#7F8182" stroke-width="2.8" stroke-linejoin="miter"/>
<line x1="732.7" y1="728.1" x2="732.7" y2="781" stroke="#6666AB" stroke-width="3"/>
<circle cx="732.7" cy="754.6" r="8.6" fill="#44448F"/>
<line x1="747" y1="721.1" x2="747" y2="757.7" stroke="#45484B" stroke-width="3"/>
<circle cx="747" cy="740.2" r="7.0" fill="#fff" stroke="#2F3336" stroke-width="3"/>
<line x1="761.3" y1="726.4" x2="761.3" y2="746" stroke="#8E9091" stroke-width="3"/>
<polygon points="752.45,733.99 770.15,733.99 761.3,749.32" fill="#fff" stroke="#7F8182" stroke-width="2.8" stroke-linejoin="miter"/>
<line x1="793.9" y1="665.1" x2="793.9" y2="762.4" stroke="#6666AB" stroke-width="3"/>
<circle cx="793.9" cy="708.7" r="8.6" fill="#44448F"/>
<line x1="808.2" y1="690.5" x2="808.2" y2="710.8" stroke="#45484B" stroke-width="3"/>
<circle cx="808.2" cy="700.6" r="7.0" fill="#fff" stroke="#2F3336" stroke-width="3"/>
<line x1="822.5" y1="740.4" x2="822.5" y2="755" stroke="#8E9091" stroke-width="3"/>
<polygon points="813.65,743.69 831.35,743.69 822.5,759.02" fill="#fff" stroke="#7F8182" stroke-width="2.8" stroke-linejoin="miter"/>
</g>
<rect x="527.9" y="621.3" width="316.4" height="365.1" fill="none" stroke="#36393C" stroke-width="1.3"/>
<text x="686.1" y="618" font-size="28" fill="#000" text-anchor="middle">LUAD</text>
<text transform="translate(576.1,1005.2) rotate(-45)" font-size="24" fill="#4D4D4D" text-anchor="end">G12A</text>
<text transform="translate(637.2,1005.2) rotate(-45)" font-size="24" fill="#4D4D4D" text-anchor="end">G12C</text>
<text transform="translate(698.1,1005.2) rotate(-45)" font-size="24" fill="#4D4D4D" text-anchor="end">G12D</text>
<text transform="translate(759.3,1005.2) rotate(-45)" font-size="24" fill="#4D4D4D" text-anchor="end">G12V</text>
<text transform="translate(820.5,1005.2) rotate(-45)" font-size="24" fill="#4D4D4D" text-anchor="end">G13C</text>
<clipPath id="cb_MM"><rect x="857" y="621.3" width="499.5" height="365.1"/></clipPath>
<g clip-path="url(#cb_MM)">
<line x1="857" y1="938.72" x2="1356.5" y2="938.72" stroke="#E7E9E9" stroke-width="1.4"/>
<line x1="857" y1="890.65" x2="1356.5" y2="890.65" stroke="#E7E9E9" stroke-width="2.7"/>
<line x1="857" y1="842.57" x2="1356.5" y2="842.57" stroke="#E7E9E9" stroke-width="1.4"/>
<line x1="857" y1="794.5" x2="1356.5" y2="794.5" stroke="#E7E9E9" stroke-width="2.7"/>
<line x1="857" y1="746.42" x2="1356.5" y2="746.42" stroke="#E7E9E9" stroke-width="1.4"/>
<line x1="857" y1="698.35" x2="1356.5" y2="698.35" stroke="#E7E9E9" stroke-width="2.7"/>
<line x1="857" y1="650.27" x2="1356.5" y2="650.27" stroke="#E7E9E9" stroke-width="1.4"/>
<line x1="893.1" y1="621.3" x2="893.1" y2="986.4" stroke="#E7E9E9" stroke-width="2.7"/>
<line x1="954" y1="621.3" x2="954" y2="986.4" stroke="#E7E9E9" stroke-width="2.7"/>
<line x1="1015.1" y1="621.3" x2="1015.1" y2="986.4" stroke="#E7E9E9" stroke-width="2.7"/>
<line x1="1076.1" y1="621.3" x2="1076.1" y2="986.4" stroke="#E7E9E9" stroke-width="2.7"/>
<line x1="1137.1" y1="621.3" x2="1137.1" y2="986.4" stroke="#E7E9E9" stroke-width="2.7"/>
<line x1="1198.3" y1="621.3" x2="1198.3" y2="986.4" stroke="#E7E9E9" stroke-width="2.7"/>
<line x1="1259.2" y1="621.3" x2="1259.2" y2="986.4" stroke="#E7E9E9" stroke-width="2.7"/>
<line x1="1320.2" y1="621.3" x2="1320.2" y2="986.4" stroke="#E7E9E9" stroke-width="2.7"/>
<line x1="878.8" y1="888" x2="878.8" y2="960.3" stroke="#6666AB" stroke-width="3"/>
<circle cx="878.8" cy="927.5" r="8.6" fill="#44448F"/>
<line x1="893.1" y1="890.5" x2="893.1" y2="913.1" stroke="#45484B" stroke-width="3"/>
<circle cx="893.1" cy="901.7" r="7.0" fill="#fff" stroke="#2F3336" stroke-width="3"/>
<line x1="907.4" y1="889" x2="907.4" y2="902" stroke="#8E9091" stroke-width="3"/>
<polygon points="898.55,891.09 916.25,891.09 907.4,906.42" fill="#fff" stroke="#7F8182" stroke-width="2.8" stroke-linejoin="miter"/>
<line x1="939.7" y1="744" x2="939.7" y2="828.1" stroke="#6666AB" stroke-width="3"/>
<circle cx="939.7" cy="785.7" r="8.6" fill="#44448F"/>
<line x1="954" y1="787.4" x2="954" y2="824.9" stroke="#45484B" stroke-width="3"/>
<circle cx="954" cy="806.5" r="7.0" fill="#fff" stroke="#2F3336" stroke-width="3"/>
<line x1="968.3" y1="793.2" x2="968.3" y2="810" stroke="#8E9091" stroke-width="3"/>
<polygon points="959.45,798.29 977.15,798.29 968.3,813.62" fill="#fff" stroke="#7F8182" stroke-width="2.8" stroke-linejoin="miter"/>
<line x1="1000.8" y1="924.4" x2="1000.8" y2="963.1" stroke="#6666AB" stroke-width="3"/>
<circle cx="1000.8" cy="943.8" r="8.6" fill="#44448F"/>
<line x1="1015.1" y1="940" x2="1015.1" y2="952" stroke="#45484B" stroke-width="3"/>
<circle cx="1015.1" cy="945.9" r="7.0" fill="#fff" stroke="#2F3336" stroke-width="3"/>
<line x1="1029.4" y1="936" x2="1029.4" y2="949" stroke="#8E9091" stroke-width="3"/>
<polygon points="1020.55,937.69 1038.25,937.69 1029.4,953.02" fill="#fff" stroke="#7F8182" stroke-width="2.8" stroke-linejoin="miter"/>
<line x1="1061.8" y1="761.6" x2="1061.8" y2="911" stroke="#6666AB" stroke-width="3"/>
<circle cx="1061.8" cy="847.6" r="8.6" fill="#44448F"/>
<line x1="1076.1" y1="848.2" x2="1076.1" y2="886.3" stroke="#45484B" stroke-width="3"/>
<circle cx="1076.1" cy="868.7" r="7.0" fill="#fff" stroke="#2F3336" stroke-width="3"/>
<line x1="1090.4" y1="857.5" x2="1090.4" y2="872" stroke="#8E9091" stroke-width="3"/>
<polygon points="1081.55,860.69 1099.25,860.69 1090.4,876.02" fill="#fff" stroke="#7F8182" stroke-width="2.8" stroke-linejoin="miter"/>
<line x1="1122.8" y1="668.9" x2="1122.8" y2="795.4" stroke="#6666AB" stroke-width="3"/>
<circle cx="1122.8" cy="737" r="8.6" fill="#44448F"/>
<line x1="1137.1" y1="737" x2="1137.1" y2="780.6" stroke="#45484B" stroke-width="3"/>
<circle cx="1137.1" cy="759.4" r="7.0" fill="#fff" stroke="#2F3336" stroke-width="3"/>
<line x1="1151.4" y1="767.3" x2="1151.4" y2="784" stroke="#8E9091" stroke-width="3"/>
<polygon points="1142.55,772.09 1160.25,772.09 1151.4,787.42" fill="#fff" stroke="#7F8182" stroke-width="2.8" stroke-linejoin="miter"/>
<line x1="1184" y1="788" x2="1184" y2="841.8" stroke="#6666AB" stroke-width="3"/>
<circle cx="1184" cy="816.4" r="8.6" fill="#44448F"/>
<line x1="1198.3" y1="782.7" x2="1198.3" y2="831.3" stroke="#45484B" stroke-width="3"/>
<circle cx="1198.3" cy="807.6" r="7.0" fill="#fff" stroke="#2F3336" stroke-width="3"/>
<line x1="1212.6" y1="809" x2="1212.6" y2="826" stroke="#8E9091" stroke-width="3"/>
<polygon points="1203.75,813.69 1221.45,813.69 1212.6,829.02" fill="#fff" stroke="#7F8182" stroke-width="2.8" stroke-linejoin="miter"/>
<line x1="1244.9" y1="866.6" x2="1244.9" y2="977.3" stroke="#6666AB" stroke-width="3"/>
<circle cx="1244.9" cy="929.7" r="8.6" fill="#44448F"/>
<line x1="1259.2" y1="927.5" x2="1259.2" y2="948.7" stroke="#45484B" stroke-width="3"/>
<circle cx="1259.2" cy="939.2" r="7.0" fill="#fff" stroke="#2F3336" stroke-width="3"/>
<line x1="1273.5" y1="930" x2="1273.5" y2="943" stroke="#8E9091" stroke-width="3"/>
<polygon points="1264.65,931.89 1282.35,931.89 1273.5,947.22" fill="#fff" stroke="#7F8182" stroke-width="2.8" stroke-linejoin="miter"/>
<line x1="1305.9" y1="868.9" x2="1305.9" y2="965.2" stroke="#6666AB" stroke-width="3"/>
<circle cx="1305.9" cy="923.7" r="8.6" fill="#44448F"/>
<line x1="1320.2" y1="893.7" x2="1320.2" y2="922.7" stroke="#45484B" stroke-width="3"/>
<circle cx="1320.2" cy="909.1" r="7.0" fill="#fff" stroke="#2F3336" stroke-width="3"/>
<line x1="1334.5" y1="884" x2="1334.5" y2="898" stroke="#8E9091" stroke-width="3"/>
<polygon points="1325.65,886.39 1343.35,886.39 1334.5,901.72" fill="#fff" stroke="#7F8182" stroke-width="2.8" stroke-linejoin="miter"/>
</g>
<rect x="857" y="621.3" width="499.5" height="365.1" fill="none" stroke="#36393C" stroke-width="1.3"/>
<text x="1106.75" y="618" font-size="28" fill="#000" text-anchor="middle">MM</text>
<text transform="translate(905.4,1005.2) rotate(-45)" font-size="24" fill="#4D4D4D" text-anchor="end">G12A</text>
<text transform="translate(966.3,1005.2) rotate(-45)" font-size="24" fill="#4D4D4D" text-anchor="end">G12D</text>
<text transform="translate(1027.4,1005.2) rotate(-45)" font-size="24" fill="#4D4D4D" text-anchor="end">G12R</text>
<text transform="translate(1088.4,1005.2) rotate(-45)" font-size="24" fill="#4D4D4D" text-anchor="end">G12V</text>
<text transform="translate(1149.4,1005.2) rotate(-45)" font-size="24" fill="#4D4D4D" text-anchor="end">G13D</text>
<text transform="translate(1210.6,1005.2) rotate(-45)" font-size="24" fill="#4D4D4D" text-anchor="end">Q61H</text>
<text transform="translate(1271.5,1005.2) rotate(-45)" font-size="24" fill="#4D4D4D" text-anchor="end">Q61L</text>
<text transform="translate(1332.5,1005.2) rotate(-45)" font-size="24" fill="#4D4D4D" text-anchor="end">Q61R</text>
<clipPath id="cb_PAAD"><rect x="1369.5" y="621.3" width="315.9" height="365.1"/></clipPath>
<g clip-path="url(#cb_PAAD)">
<line x1="1369.5" y1="938.72" x2="1685.4" y2="938.72" stroke="#E7E9E9" stroke-width="1.4"/>
<line x1="1369.5" y1="890.65" x2="1685.4" y2="890.65" stroke="#E7E9E9" stroke-width="2.7"/>
<line x1="1369.5" y1="842.57" x2="1685.4" y2="842.57" stroke="#E7E9E9" stroke-width="1.4"/>
<line x1="1369.5" y1="794.5" x2="1685.4" y2="794.5" stroke="#E7E9E9" stroke-width="2.7"/>
<line x1="1369.5" y1="746.42" x2="1685.4" y2="746.42" stroke="#E7E9E9" stroke-width="1.4"/>
<line x1="1369.5" y1="698.35" x2="1685.4" y2="698.35" stroke="#E7E9E9" stroke-width="2.7"/>
<line x1="1369.5" y1="650.27" x2="1685.4" y2="650.27" stroke="#E7E9E9" stroke-width="1.4"/>
<line x1="1405.1" y1="621.3" x2="1405.1" y2="986.4" stroke="#E7E9E9" stroke-width="2.7"/>
<line x1="1466.3" y1="621.3" x2="1466.3" y2="986.4" stroke="#E7E9E9" stroke-width="2.7"/>
<line x1="1527.2" y1="621.3" x2="1527.2" y2="986.4" stroke="#E7E9E9" stroke-width="2.7"/>
<line x1="1588.5" y1="621.3" x2="1588.5" y2="986.4" stroke="#E7E9E9" stroke-width="2.7"/>
<line x1="1649.5" y1="621.3" x2="1649.5" y2="986.4" stroke="#E7E9E9" stroke-width="2.7"/>
<line x1="1390.8" y1="628" x2="1390.8" y2="914.4" stroke="#6666AB" stroke-width="3"/>
<circle cx="1390.8" cy="786.9" r="8.6" fill="#44448F"/>
<line x1="1405.1" y1="820.3" x2="1405.1" y2="844.6" stroke="#45484B" stroke-width="3"/>
<circle cx="1405.1" cy="833" r="7.0" fill="#fff" stroke="#2F3336" stroke-width="3"/>
<line x1="1419.4" y1="811.6" x2="1419.4" y2="877.8" stroke="#8E9091" stroke-width="3"/>
<polygon points="1410.55,841.59 1428.25,841.59 1419.4,856.92" fill="#fff" stroke="#7F8182" stroke-width="2.8" stroke-linejoin="miter"/>
<line x1="1452" y1="690.7" x2="1452" y2="744" stroke="#6666AB" stroke-width="3"/>
<circle cx="1452" cy="718" r="8.6" fill="#44448F"/>
<line x1="1466.3" y1="715" x2="1466.3" y2="756.7" stroke="#45484B" stroke-width="3"/>
<circle cx="1466.3" cy="736.2" r="7.0" fill="#fff" stroke="#2F3336" stroke-width="3"/>
<line x1="1480.6" y1="712.2" x2="1480.6" y2="798.2" stroke="#8E9091" stroke-width="3"/>
<polygon points="1471.75,750.89 1489.45,750.89 1480.6,766.22" fill="#fff" stroke="#7F8182" stroke-width="2.8" stroke-linejoin="miter"/>
<line x1="1512.9" y1="929.2" x2="1512.9" y2="954" stroke="#6666AB" stroke-width="3"/>
<circle cx="1512.9" cy="941.9" r="8.6" fill="#44448F"/>
<line x1="1527.2" y1="932" x2="1527.2" y2="944" stroke="#45484B" stroke-width="3"/>
<circle cx="1527.2" cy="937.7" r="7.0" fill="#fff" stroke="#2F3336" stroke-width="3"/>
<line x1="1541.5" y1="903.2" x2="1541.5" y2="953.6" stroke="#8E9091" stroke-width="3"/>
<polygon points="1532.65,925.59 1550.35,925.59 1541.5,940.92" fill="#fff" stroke="#7F8182" stroke-width="2.8" stroke-linejoin="miter"/>
<line x1="1574.2" y1="682.6" x2="1574.2" y2="739.1" stroke="#6666AB" stroke-width="3"/>
<circle cx="1574.2" cy="711.6" r="8.6" fill="#44448F"/>
<line x1="1588.5" y1="686.2" x2="1588.5" y2="725.6" stroke="#45484B" stroke-width="3"/>
<circle cx="1588.5" cy="706.5" r="7.0" fill="#fff" stroke="#2F3336" stroke-width="3"/>
<line x1="1602.8" y1="679.9" x2="1602.8" y2="775.7" stroke="#8E9091" stroke-width="3"/>
<polygon points="1593.95,724.49 1611.65,724.49 1602.8,739.82" fill="#fff" stroke="#7F8182" stroke-width="2.8" stroke-linejoin="miter"/>
<line x1="1635.2" y1="711.2" x2="1635.2" y2="835.5" stroke="#6666AB" stroke-width="3"/>
<circle cx="1635.2" cy="776.4" r="8.6" fill="#44448F"/>
<line x1="1649.5" y1="749.7" x2="1649.5" y2="780.6" stroke="#45484B" stroke-width="3"/>
<circle cx="1649.5" cy="764.7" r="7.0" fill="#fff" stroke="#2F3336" stroke-width="3"/>
<line x1="1663.8" y1="661" x2="1663.8" y2="755.2" stroke="#8E9091" stroke-width="3"/>
<polygon points="1654.95,703.89 1672.65,703.89 1663.8,719.22" fill="#fff" stroke="#7F8182" stroke-width="2.8" stroke-linejoin="miter"/>
</g>
<rect x="1369.5" y="621.3" width="315.9" height="365.1" fill="none" stroke="#36393C" stroke-width="1.3"/>
<text x="1527.45" y="618" font-size="28" fill="#000" text-anchor="middle">PAAD</text>
<text transform="translate(1417.4,1005.2) rotate(-45)" font-size="24" fill="#4D4D4D" text-anchor="end">G12C</text>
<text transform="translate(1478.6,1005.2) rotate(-45)" font-size="24" fill="#4D4D4D" text-anchor="end">G12D</text>
<text transform="translate(1539.5,1005.2) rotate(-45)" font-size="24" fill="#4D4D4D" text-anchor="end">G12R</text>
<text transform="translate(1600.8,1005.2) rotate(-45)" font-size="24" fill="#4D4D4D" text-anchor="end">G12V</text>
<text transform="translate(1661.8,1005.2) rotate(-45)" font-size="24" fill="#4D4D4D" text-anchor="end">Q61H</text>
<text transform="translate(25.0,804.5) rotate(-90)" font-size="28.2" text-anchor="middle" fill="#000">average probability</text>
<polyline points="344.4,779 344.4,774.6 375.1,774.6 375.1,779" fill="none" stroke="#000" stroke-width="2.7" stroke-linejoin="round" stroke-linecap="round"/>
<text x="320.8" y="768" font-size="18.2" fill="#000" text-anchor="start">5.48e-04</text>
<polyline points="344.4,808 344.4,803.6 356.6,803.6 356.6,808" fill="none" stroke="#000" stroke-width="2.7" stroke-linejoin="round" stroke-linecap="round"/>
<text x="320.8" y="796.7" font-size="18.2" fill="#000" text-anchor="start">3.42e-02</text>
<polyline points="612.2,674.2 612.2,669.9 643.5,669.9 643.5,674.2" fill="none" stroke="#000" stroke-width="2.7" stroke-linejoin="round" stroke-linecap="round"/>
<text x="588.5" y="662.9" font-size="18.4" fill="#000" text-anchor="start">4.47e-05</text>
<text x="1699.4" y="755.6" font-size="24" fill="#000" text-anchor="start">tumor samples with</text>
<line x1="1710.4" y1="773.6" x2="1710.4" y2="800.8" stroke="#6666AB" stroke-width="3"/>
<circle cx="1710.4" cy="786.9" r="8.6" fill="#44448F"/>
<line x1="1710.4" y1="807.8" x2="1710.4" y2="834.8" stroke="#45484B" stroke-width="3"/>
<circle cx="1710.4" cy="821.4" r="7.0" fill="#fff" stroke="#2F3336" stroke-width="3"/>
<line x1="1710.4" y1="841.8" x2="1710.4" y2="868.8" stroke="#8E9091" stroke-width="3"/>
<polygon points="1701.55,850.69 1719.25,850.69 1710.4,866.02" fill="#fff" stroke="#7F8182" stroke-width="2.8" stroke-linejoin="miter"/>
<text x="1733.6" y="793.3" font-size="24" fill="#000">the <tspan font-style="italic">KRAS</tspan> allele</text>
<text x="1733.6" y="827.7" font-size="24" fill="#000">another <tspan font-style="italic">KRAS</tspan> mutation</text>
<text x="1733.6" y="861.7" font-size="24" fill="#000"><tspan font-style="italic">KRAS</tspan> WT</text>
</svg>
</body>
</html>
